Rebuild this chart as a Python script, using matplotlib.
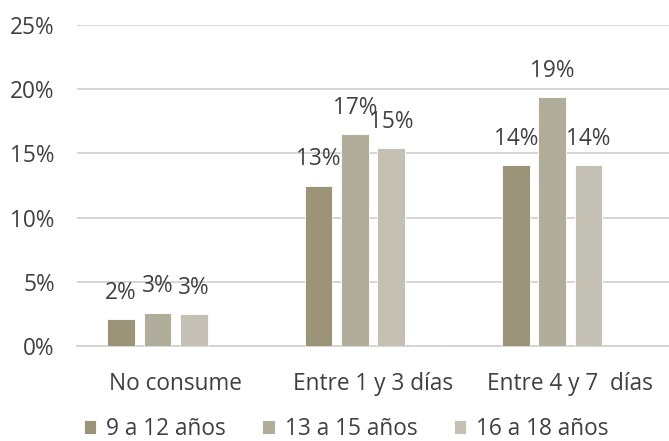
import numpy as np
import matplotlib.pyplot as plt

plt.rcParams['font.family'] = ['Open Sans', 'DejaVu Sans']

categories = ['No consume', 'Entre 1 y 3 días', 'Entre 4 y 7  días']
series_names = ['9 a 12 años', '13 a 15 años', '16 a 18 años']
values_9_12 = [2.1, 12.5, 14.1]
values_13_15 = [2.6, 16.5, 19.4]
values_16_18 = [2.5, 15.4, 14.1]
values_other = [0.0, 0.13, 0.0]
labels_9_12 = ['2%', '13%', '14%']
labels_13_15 = ['3%', '17%', '19%']
labels_16_18 = ['3%', '15%', '14%']

colors = ['#9b9479', '#b0ad9b', '#c4c0b4', '#d8d6ce']
text_color = '#404040'
grid_color = '#d0d0d0'
fs = 16.3

fig = plt.figure(figsize=(6.69, 4.41), dpi=100)
ax = fig.add_axes([0.115, 0.2154, 0.885, 0.7276])

x = np.arange(len(categories))
step = 0.184
width = 0.14
series = [values_9_12, values_13_15, values_16_18, values_other]
labels = [labels_9_12, labels_13_15, labels_16_18, None]

for i, vals in enumerate(series):
    pos = x + (i - 1.5) * step
    ax.bar(pos, vals, width, color=colors[i], edgecolor='white', linewidth=0.6,
           label=series_names[i] if i < 3 else None, zorder=3)
    if labels[i] is not None:
        for px, v, lab in zip(pos, vals, labels[i]):
            ax.annotate(lab, (px, v), xytext=(0, 19), textcoords='offset points',
                        ha='center', va='center', fontsize=fs, color=text_color)

ax.set_xlim(-0.5, 2.5)
ax.set_ylim(0, 25)
ax.set_yticks(range(0, 26, 5))
ax.set_yticklabels([f'{t}%' for t in range(0, 26, 5)])
ax.set_xticks(x)
ax.set_xticklabels(categories)
ax.yaxis.grid(True, color=grid_color, linewidth=1.2, zorder=0)
ax.set_axisbelow(True)
for s in ['top', 'right', 'left']:
    ax.spines[s].set_visible(False)
ax.spines['bottom'].set_color(grid_color)
ax.spines['bottom'].set_linewidth(1.2)
ax.tick_params(axis='both', length=0, labelsize=fs, colors=text_color)
ax.tick_params(axis='x', pad=19)
ax.tick_params(axis='y', pad=16)

ax.legend(loc='center', bbox_to_anchor=(0.455, -0.258), ncol=3, frameon=False,
          fontsize=fs, labelcolor=text_color, handlelength=0.55, handleheight=0.55,
          handletextpad=0.45, columnspacing=1.6, borderaxespad=0)

fig.savefig('out.png', dpi=100)
